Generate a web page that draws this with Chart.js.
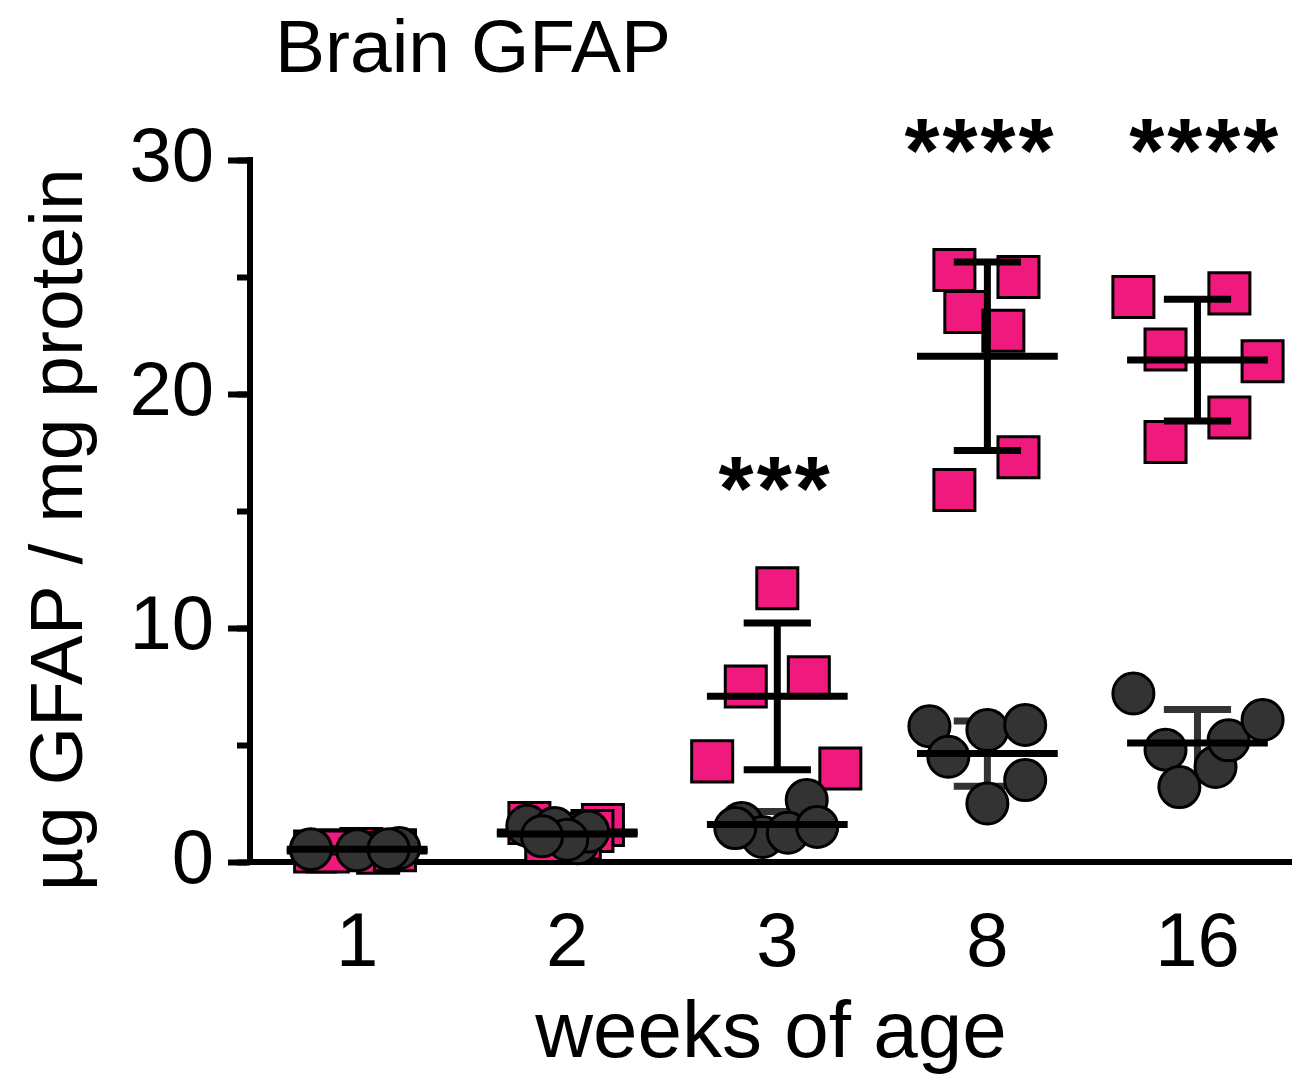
<!DOCTYPE html>
<html>
<head>
<meta charset="utf-8">
<script src="https://cdn.jsdelivr.net/npm/chart.js@4.4.0/dist/chart.umd.min.js"></script>
<style>
  html, body { margin: 0; padding: 0; background: #ffffff; }
  #wrap { width: 1292px; height: 1079px; position: relative; }
  canvas { display: block; }
</style>
</head>
<body>
<div id="wrap"><canvas id="c" width="1292" height="1079"></canvas></div>
<script>
// ---------------- DATA (µg GFAP / mg protein) ----------------
const weekLabels = ['1', '2', '3', '8', '16'];

// pink squares
const squaresW1  = [0.45, 0.5, 0.55, 0.4, 0.5, 0.45];
const squaresW2  = [1.67, 1.58, 1.32, 0.9, 1.2, 1.0];
const squaresW3  = [11.7, 7.5, 7.9, 4.3, 4.0];
const squaresW8  = [25.3, 25.0, 23.5, 22.7, 17.3, 15.9];
const squaresW16 = [24.15, 24.3, 21.9, 21.4, 19.0, 17.95];

// dark circles
const circlesW1  = [0.55, 0.5, 0.6, 0.55];
const circlesW2  = [1.55, 1.45, 0.8, 1.3, 0.95, 1.1];
const circlesW3  = [2.65, 1.67, 1.07, 1.25, 1.5, 1.45];
const circlesW8  = [5.8, 4.5, 5.64, 5.86, 3.5, 2.5];
const circlesW16 = [7.2, 4.8, 3.2, 4.06, 5.2, 6.07];

// significance annotations
const sigWeekIndex = [2, 3, 4];
const sigText      = ['***', '****', '****'];

// ---------------- LAYOUT (horizontal scatter of points within a week) ----------------
const squareJitter = [
  [-0.2, -0.08, 0.02, 0.1, 0.18, -0.14],
  [-0.18, 0.17, 0.12, -0.1, 0.0, 0.06],
  [0.0, -0.15, 0.15, -0.31, 0.30],
  [-0.157, 0.148, -0.105, 0.076, 0.148, -0.157],
  [-0.305, 0.152, -0.152, 0.31, 0.152, -0.152]
];
const circleJitter = [
  [-0.22, 0.0, 0.2, 0.15],
  [-0.19, -0.06, 0.05, 0.1, 0.0, -0.12],
  [0.14, -0.17, -0.07, 0.05, 0.19, -0.2],
  [-0.276, -0.186, 0.0, 0.18, 0.18, 0.0],
  [-0.305, -0.152, -0.086, 0.086, 0.148, 0.31]
];
const sigValueY = [16.3, 30.75, 30.75];
const sigDx = [-0.015, -0.04, 0.03];

const squareGroups = [squaresW1, squaresW2, squaresW3, squaresW8, squaresW16];
const circleGroups = [circlesW1, circlesW2, circlesW3, circlesW8, circlesW16];

const FONT = '"Liberation Sans", Arial, Helvetica, sans-serif';
const PINK = '#F0197D';
const DARK = '#333333';

function toPoints(groups, jitter) {
  const pts = [];
  groups.forEach((vals, i) => vals.forEach((v, j) => pts.push({ x: i + jitter[i][j], y: v })));
  return pts;
}
function stats(vals) {
  const n = vals.length;
  const mean = vals.reduce((a, b) => a + b, 0) / n;
  const sd = Math.sqrt(vals.reduce((a, b) => a + (b - mean) * (b - mean), 0) / (n - 1));
  return { mean, sd };
}

const MEAN_HALF = 0.335, CAP_HALF = 0.16, BAR_W = 7;
function drawBars(chart, groups, color, showSD, showMean) {
  const { ctx, scales: { x, y } } = chart;
  ctx.save();
  ctx.strokeStyle = color;
  ctx.lineWidth = BAR_W;
  ctx.lineCap = 'butt';
  groups.forEach((vals, i) => {
    const s = stats(vals);
    const xc = x.getPixelForValue(i);
    ctx.beginPath();
    if (showSD) {
      const yt = y.getPixelForValue(s.mean + s.sd);
      const yb = y.getPixelForValue(Math.max(s.mean - s.sd, 0));
      ctx.moveTo(xc, yt); ctx.lineTo(xc, yb);
      ctx.moveTo(x.getPixelForValue(i - CAP_HALF), yt); ctx.lineTo(x.getPixelForValue(i + CAP_HALF), yt);
      ctx.moveTo(x.getPixelForValue(i - CAP_HALF), yb); ctx.lineTo(x.getPixelForValue(i + CAP_HALF), yb);
    }
    if (showMean) {
      const ym = y.getPixelForValue(s.mean);
      ctx.moveTo(x.getPixelForValue(i - MEAN_HALF), ym); ctx.lineTo(x.getPixelForValue(i + MEAN_HALF), ym);
    }
    ctx.stroke();
  });
  ctx.restore();
}

const errorBarPlugin = {
  id: 'errorBars',
  beforeDatasetDraw(chart, args) {
    if (args.meta.label === 'circles') drawBars(chart, circleGroups, DARK, true, false);
  },
  afterDatasetDraw(chart, args) {
    if (args.meta.label === 'squares') drawBars(chart, squareGroups, '#000', true, true);
    if (args.meta.label === 'circles') drawBars(chart, circleGroups, '#000', false, true);
  }
};

const textPlugin = {
  id: 'texts',
  afterDraw(chart) {
    const { ctx, scales: { x, y } } = chart;
    ctx.save();
    ctx.fillStyle = '#000';
    ctx.font = '75px ' + FONT;
    ctx.textAlign = 'left';
    ctx.textBaseline = 'alphabetic';
    ctx.fillText('Brain GFAP', 275, 72);
    ctx.font = 'bold 90px ' + FONT;
    ctx.letterSpacing = '3px';
    ctx.textAlign = 'center';
    ctx.textBaseline = 'middle';
    sigWeekIndex.forEach((wi, k) => {
      ctx.fillText(sigText[k], x.getPixelForValue(wi + sigDx[k]) + 1.5, y.getPixelForValue(sigValueY[k]) + 15);
    });
    ctx.restore();
  }
};

new Chart(document.getElementById('c'), {
  type: 'scatter',
  data: {
    datasets: [
      {
        label: 'squares',
        data: toPoints(squareGroups, squareJitter),
        pointStyle: 'rect',
        pointRadius: 29,
        pointHoverRadius: 29,
        backgroundColor: PINK,
        borderColor: '#000',
        borderWidth: 3,
        order: 2,
        clip: false
      },
      {
        label: 'circles',
        data: toPoints(circleGroups, circleJitter),
        pointStyle: 'circle',
        pointRadius: 20.5,
        pointHoverRadius: 20.5,
        backgroundColor: DARK,
        borderColor: '#000',
        borderWidth: 3,
        order: 1,
        clip: false
      }
    ]
  },
  options: {
    responsive: false,
    animation: false,
    events: [],
    layout: { autoPadding: false, padding: { top: 160, left: 0, right: 0, bottom: 0 } },
    plugins: { legend: { display: false }, tooltip: { enabled: false }, title: { display: false } },
    scales: {
      x: {
        type: 'linear',
        position: 'bottom',
        min: -0.51,
        max: 4.45,
        afterBuildTicks: (s) => { s.ticks = weekLabels.map((_, i) => ({ value: i })); },
        afterFit: (s) => { s.height = 217; s.paddingLeft = 0; s.paddingRight = 0; },
        ticks: {
          callback: (v) => weekLabels[v],
          font: { family: FONT, size: 76, lineHeight: 1 },
          color: '#000',
          padding: 45,
          autoSkip: false,
          maxRotation: 0
        },
        grid: { display: false, drawTicks: false },
        border: { display: true, color: '#000', width: 6 },
        title: {
          display: true,
          text: 'weeks of age',
          font: { family: FONT, size: 80, lineHeight: 1 },
          color: '#000',
          padding: { top: 0, bottom: 4 }
        }
      },
      y2: {
        type: 'linear',
        position: 'left',
        weight: 0,
        min: 0,
        max: 30,
        ticks: { stepSize: 5, display: false },
        grid: { display: true, drawOnChartArea: false, drawTicks: true, tickLength: 13, tickWidth: 6, tickColor: '#000' },
        border: { display: false },
        afterFit: (s) => { s.width = 0; }
      },
      y: {
        type: 'linear',
        position: 'left',
        weight: 1,
        min: 0,
        max: 30,
        ticks: {
          stepSize: 10,
          font: { family: FONT, size: 76, lineHeight: 1 },
          color: '#000',
          padding: 14
        },
        grid: { display: true, drawOnChartArea: false, drawTicks: true, tickLength: 22, tickWidth: 6, tickColor: '#000' },
        border: { display: true, color: '#000', width: 6 },
        afterFit: (s) => { s.width = 250; },
        title: {
          display: true,
          text: 'µg GFAP / mg protein\u2002',
          font: { family: FONT, size: 75, lineHeight: 1 },
          color: '#000',
          padding: { top: 24, bottom: 0 }
        }
      }
    }
  },
  plugins: [errorBarPlugin, textPlugin]
});
</script>
</body>
</html>
